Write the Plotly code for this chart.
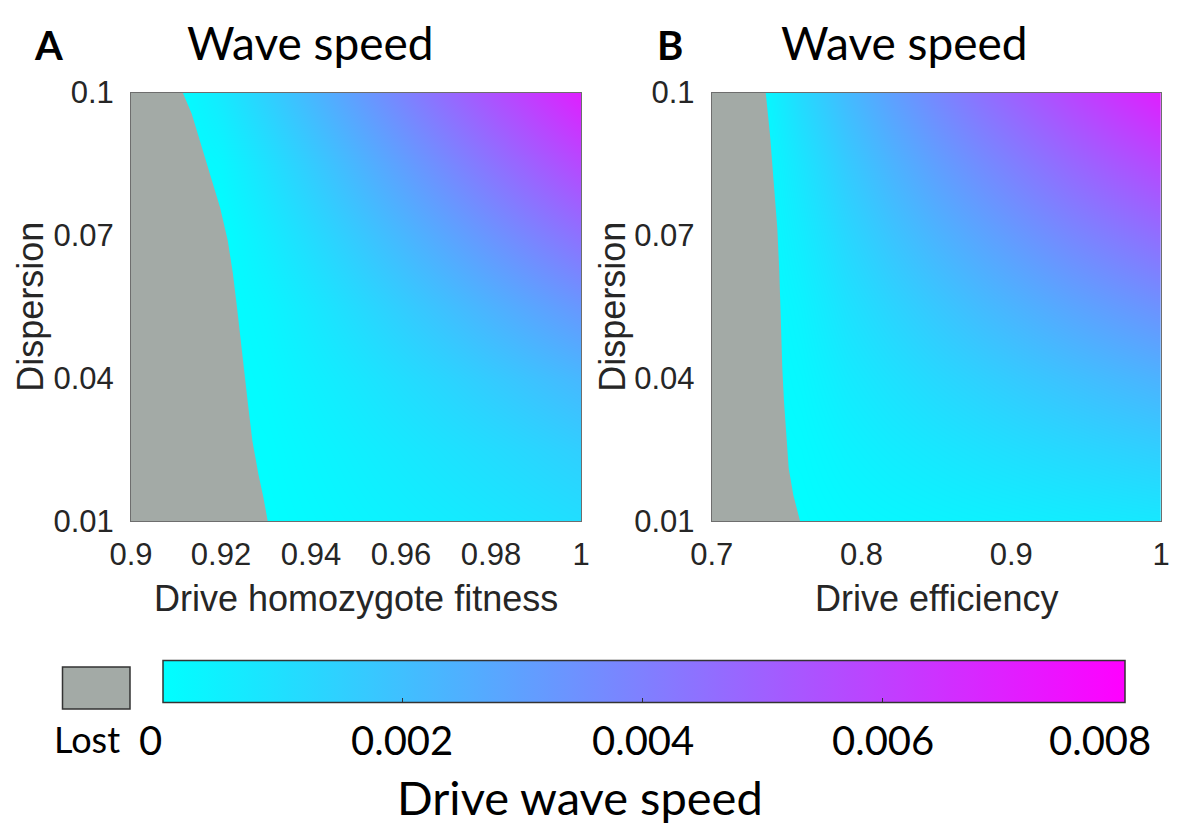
import plotly.graph_objects as go

# ---------------- data ----------------
# Panel A: drive homozygote fitness (x) vs dispersion (y); wave speed in units of 1e-3
fitness = [0.90, 0.91, 0.92, 0.93, 0.94, 0.95, 0.96, 0.97, 0.98, 0.99, 1.00]
dispersion = [0.01, 0.025, 0.04, 0.055, 0.07, 0.085, 0.10]
speed_A = [
    [0, 0, 0,    0,    0.15, 0.30, 0.45, 0.59, 0.74, 0.89, 1.04],
    [0, 0, 0,    0.06, 0.27, 0.48, 0.69, 0.90, 1.10, 1.31, 1.52],
    [0, 0, 0,    0.15, 0.45, 0.74, 1.05, 1.34, 1.64, 1.94, 2.24],
    [0, 0, 0,    0.28, 0.70, 1.14, 1.57, 1.99, 2.42, 2.85, 3.28],
    [0, 0, 0,    0.56, 1.12, 1.68, 2.24, 2.80, 3.36, 3.92, 4.48],
    [0, 0, 0.24, 0.93, 1.62, 2.31, 3.00, 3.69, 4.38, 5.07, 5.76],
    [0, 0, 0.68, 1.47, 2.26, 3.06, 3.86, 4.66, 5.45, 6.25, 7.04],
]
# boundary of the "Lost" region in panel A
lost_A_disp = [0.1, 0.09553, 0.08993, 0.08293, 0.07592, 0.06892, 0.06192, 0.05492,
               0.04792, 0.04092, 0.03392, 0.02692, 0.01992, 0.01502, 0.01]
lost_A_fit = [0.91149, 0.91349, 0.91533, 0.91756, 0.91978, 0.92150, 0.92265, 0.92355,
              0.92435, 0.92523, 0.92607, 0.92696, 0.92829, 0.92940, 0.93038]

# Panel B: drive efficiency (x) vs dispersion (y)
efficiency = [0.70, 0.73, 0.76, 0.79, 0.82, 0.85, 0.88, 0.91, 0.94, 0.97, 1.00]
speed_B = [
    [0, 0, 0.02, 0.16, 0.26, 0.35, 0.43, 0.50, 0.58, 0.65, 0.72],
    [0, 0, 0.11, 0.37, 0.58, 0.75, 0.92, 1.08, 1.23, 1.38, 1.52],
    [0, 0, 0.23, 0.62, 0.93, 1.22, 1.47, 1.72, 1.95, 2.18, 2.40],
    [0, 0, 0.37, 0.91, 1.35, 1.75, 2.13, 2.47, 2.81, 3.13, 3.44],
    [0, 0, 0.58, 1.26, 1.84, 2.36, 2.84, 3.30, 3.74, 4.15, 4.56],
    [0, 0, 0.82, 1.66, 2.37, 3.02, 3.62, 4.18, 4.73, 5.26, 5.76],
    [0, 0, 1.17, 2.14, 2.98, 3.75, 4.47, 5.14, 5.80, 6.43, 7.04],
]
lost_B_disp = [0.1, 0.09112, 0.08061, 0.07151, 0.06240, 0.05260, 0.04209, 0.03507,
               0.02808, 0.02107, 0.01546, 0.01]
lost_B_eff = [0.73606, 0.73893, 0.74160, 0.74381, 0.74514, 0.74608, 0.74715, 0.74828,
              0.74962, 0.75142, 0.75449, 0.75897]

A_ticks = [0.9, 0.92, 0.94, 0.96, 0.98, 1.0]
A_ticktext = ["0.9", "0.92", "0.94", "0.96", "0.98", "1"]
B_ticks = [0.7, 0.8, 0.9, 1.0]
B_ticktext = ["0.7", "0.8", "0.9", "1"]
Y_ticks = [0.01, 0.04, 0.07, 0.1]
Y_ticktext = ["0.01", "0.04", "0.07", "0.1"]
cbar_ticks = [2, 4, 6]            # x 1e-3
cbar_labels = ["0", "0.002", "0.004", "0.006", "0.008"]
speed_max = 8.02

# ---------------- styling ----------------
W, H = 1180, 827
OFF = 8   # the page body has an 8 px margin; positions below are window pixels
GRAY = "rgb(163,170,166)"
AX_FONT = dict(family="Liberation Sans, Arial, sans-serif", size=31, color="#262626")
TITLE_FONT = "Lato, Open Sans, sans-serif"

def px(xp):
    return (xp - OFF) / W

def py(yp):
    return 1 - (yp - OFF) / H

fig = go.Figure()

fig.add_trace(go.Heatmap(x=fitness, y=dispersion, z=speed_A, coloraxis="coloraxis",
                         zsmooth="best", xaxis="x", yaxis="y", hoverinfo="skip"))
fig.add_trace(go.Scatter(x=[0.9] + lost_A_fit + [0.9], y=[0.1] + lost_A_disp + [0.01],
                         fill="toself", fillcolor=GRAY, mode="lines",
                         line=dict(width=0, color=GRAY), xaxis="x", yaxis="y",
                         showlegend=False, hoverinfo="skip"))
fig.add_trace(go.Heatmap(x=efficiency, y=dispersion, z=speed_B, coloraxis="coloraxis",
                         zsmooth="best", xaxis="x2", yaxis="y2", hoverinfo="skip"))
fig.add_trace(go.Scatter(x=[0.7] + lost_B_eff + [0.7], y=[0.1] + lost_B_disp + [0.01],
                         fill="toself", fillcolor=GRAY, mode="lines",
                         line=dict(width=0, color=GRAY), xaxis="x2", yaxis="y2",
                         showlegend=False, hoverinfo="skip"))

axis_common = dict(showgrid=False, zeroline=False, showline=True, mirror=True,
                   linecolor="rgb(110,110,110)", linewidth=1, ticks="",
                   tickfont=AX_FONT, automargin=False)

y_dom = [py(521), py(92.5)]
fig.update_layout(
    width=W, height=H, margin=dict(l=0, r=0, t=0, b=0, autoexpand=False),
    paper_bgcolor="white", plot_bgcolor="white", showlegend=False,
    xaxis=dict(domain=[px(131), px(581)], range=[0.9, 1.0], tickvals=A_ticks,
               ticktext=A_ticktext, anchor="y", ticklabelstandoff=6, **axis_common),
    yaxis=dict(domain=y_dom, range=[0.01, 0.1], tickvals=Y_ticks, ticktext=Y_ticktext,
               anchor="x", ticklabelstandoff=10, **axis_common),
    xaxis2=dict(domain=[px(711.7), px(1161)], range=[0.7, 1.0], tickvals=B_ticks,
                ticktext=B_ticktext, anchor="y2", ticklabelstandoff=6, **axis_common),
    yaxis2=dict(domain=y_dom, range=[0.01, 0.1], tickvals=Y_ticks, ticktext=Y_ticktext,
                anchor="x2", ticklabelstandoff=10, **axis_common),
    coloraxis=dict(
        cmin=0, cmax=speed_max,
        colorscale=[[0, "rgb(0,255,255)"], [1, "rgb(255,0,255)"]],
        colorbar=dict(orientation="h", lenmode="pixels", len=962,
                      thicknessmode="pixels", thickness=42,
                      x=px((163 + 1125) / 2), xanchor="center",
                      y=py(709), yanchor="bottom", xpad=0, ypad=0,
                      outlinecolor="#333333", outlinewidth=1.5,
                      tickvals=cbar_ticks, ticks="inside", ticklen=5,
                      tickcolor="#333333", showticklabels=False),
    ),
)

annotations = []
# titles and panel letters
for letter, lx, tx in [("A", 48, 310), ("B", 670, 905)]:
    annotations.append(dict(text=f"<b>{letter}</b>", x=px(lx), y=py(45), xref="paper",
                            yref="paper", xanchor="center", yanchor="middle",
                            showarrow=False,
                            font=dict(family=TITLE_FONT, size=40, color="black")))
    annotations.append(dict(text="Wave speed", x=px(tx), y=py(43), xref="paper",
                            yref="paper", xanchor="center", yanchor="middle",
                            showarrow=False,
                            font=dict(family=TITLE_FONT, size=46, color="black")))
# axis titles
TITLE_AX = dict(family="Liberation Sans, Arial, sans-serif", size=36, color="#262626")
annotations.append(dict(text="Drive homozygote fitness", x=px(356), y=py(598),
                        xref="paper", yref="paper", xanchor="center", yanchor="middle",
                        showarrow=False, font=TITLE_AX))
annotations.append(dict(text="Drive efficiency", x=px(936.5), y=py(598),
                        xref="paper", yref="paper", xanchor="center", yanchor="middle",
                        showarrow=False, font=TITLE_AX))
for dx in [31, 613]:
    annotations.append(dict(text="Dispersion", x=px(dx), y=py(306.7), xref="paper",
                            yref="paper", xanchor="center", yanchor="middle",
                            textangle=-90, showarrow=False, font=TITLE_AX))
# colour bar labels
CB_FONT = dict(family=TITLE_FONT, size=40, color="black")
label_x = [150, 402, 643, 883, 1100]
for lab, lx in zip(cbar_labels, label_x):
    annotations.append(dict(text=lab, x=px(lx), y=py(740), xref="paper", yref="paper",
                            xanchor="center", yanchor="middle", showarrow=False,
                            font=CB_FONT))
annotations.append(dict(text="Lost", x=px(87), y=py(739), xref="paper", yref="paper",
                        xanchor="center", yanchor="middle", showarrow=False,
                        font=dict(family=TITLE_FONT, size=36, color="black")))
annotations.append(dict(text="Drive wave speed", x=px(580), y=py(797), xref="paper",
                        yref="paper", xanchor="center", yanchor="middle",
                        showarrow=False, borderpad=0,
                        font=dict(family=TITLE_FONT, size=47, color="black")))
fig.update_layout(annotations=annotations)

# "Lost" swatch
fig.add_shape(type="rect", xref="paper", yref="paper", x0=px(62.5), x1=px(130),
              y0=py(709), y1=py(667), fillcolor=GRAY,
              line=dict(color="#333333", width=1.5))

fig.write_html("out.html")
